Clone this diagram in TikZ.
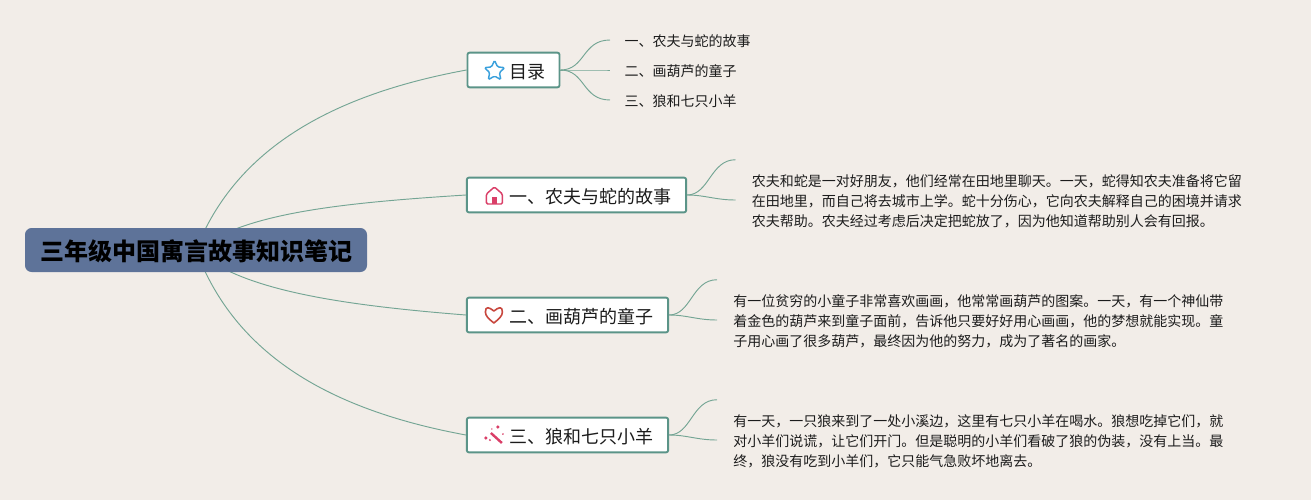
\documentclass[tikz,border=0pt]{standalone}
\usepackage{fontspec}
\setmainfont{Noto Sans CJK SC}
\usepackage{tikz}
\usetikzlibrary{calc,shapes.geometric,backgrounds}
\definecolor{paper}{HTML}{F2EDE8}
\definecolor{rootfill}{HTML}{5E7399}
\definecolor{teal}{HTML}{5B9488}
\definecolor{wire}{HTML}{74A594}
\definecolor{inkdark}{HTML}{1C1C1C}
\definecolor{iconblue}{HTML}{3AA0DC}
\definecolor{iconpink}{HTML}{DA3F68}
\definecolor{iconred}{HTML}{C8473E}
\newcommand{\tallline}{\rule{0pt}{1em}}
\begin{document}
\begin{tikzpicture}[
  x=0.75pt, y=-0.75pt,
  every node/.style={text=inkdark},
  rootbox/.style={fill=rootfill, text=black, rounded corners=5pt, minimum width=256.5pt,
                  minimum height=33pt, inner sep=0pt, font=\fontsize{18}{20}\selectfont\bfseries},
  topic/.style={draw=teal, line width=1.4pt, fill=white, rounded corners=1.5pt,
                minimum height=26pt, inner sep=0pt, font=\fontsize{13.5}{16}\selectfont},
  leaf/.style={anchor=west, inner xsep=10.8pt, inner ysep=0pt, font=\fontsize{10.5}{13}\selectfont},
  para/.style={anchor=west, align=left, inner xsep=12pt, inner ysep=0pt, minimum height=60pt,
               font=\fontsize{10.5}{15}\selectfont},
  wire/.style={draw=wire, line width=0.7pt},
  icon/.style={line width=1.1pt, line join=round}
]
\begin{pgfonlayer}{background}
\fill[paper] (0,0) rectangle (1311,500);
\end{pgfonlayer}
%% root
\node[rootbox] (root) at (196,250) {\tallline\hspace{1.5pt}三年级中国寓言故事知识笔记};
%% topics
\node[topic, minimum width=69pt] (toc) at (513.5,70) {\tallline\hspace{21.5pt}目录};
\node[topic, minimum width=164.5pt] (farmer) at (576.5,195) {\tallline\hspace{21.5pt}一、农夫与蛇的故事};
\node[topic, minimum width=151pt] (gourd) at (567.5,315) {\tallline\hspace{21.5pt}二、画葫芦的童子};
\node[topic, minimum width=151pt] (wolf) at (567.5,435) {\tallline\hspace{21.5pt}三、狼和七只小羊};
%% contents
\node[leaf] (toca) at (610,40) {\tallline 一、农夫与蛇的故事};
\node[leaf] (tocb) at (610,70) {\tallline 二、画葫芦的童子};
\node[leaf] (tocc) at (610,100) {\tallline 三、狼和七只小羊};
%% stories
\node[para] (farmertext) at (735.5,200) {\tallline 农夫和蛇是一对好朋友，他们经常在田地里聊天。一天，蛇得知农夫准备将它留\\
  在田地里，而自己将去城市上学。蛇十分伤心，它向农夫解释自己的困境并请求\\
  农夫帮助。农夫经过考虑后决定把蛇放了，因为他知道帮助别人会有回报。};
\node[para] (gourdtext) at (717,320) {\tallline 有一位贫穷的小童子非常喜欢画画，他常常画葫芦的图案。一天，有一个神仙带\\
  着金色的葫芦来到童子面前，告诉他只要好好用心画画，他的梦想就能实现。童\\
  子用心画了很多葫芦，最终因为他的努力，成为了著名的画家。};
\node[para] (wolftext) at (717,440) {\tallline 有一天，一只狼来到了一处小溪边，这里有七只小羊在喝水。狼想吃掉它们，就\\
  对小羊们说谎，让它们开门。但是聪明的小羊们看破了狼的伪装，没有上当。最\\
  终，狼没有吃到小羊们，它只能气急败坏地离去。};
%% branches
\begin{pgfonlayer}{background}
\draw[wire] (root.center) .. controls (235,150) and (330,95) .. (toc.west);
\draw[wire] (root.center) .. controls (245,213) and (340,203) .. (farmer.west);
\draw[wire] (root.center) .. controls (240,290) and (340,305) .. (gourd.west);
\draw[wire] (root.center) .. controls (235,355) and (330,410) .. (wolf.west);
\end{pgfonlayer}
\foreach \a/\b in {toc/toca,toc/tocb,toc/tocc}
  \draw[wire] (\a.east) .. controls +(25,0) and ($(\b.west)+(-28,0)$) .. (\b.west);
\foreach \a/\b in {farmer/farmertext,gourd/gourdtext,wolf/wolftext} {
  \draw[wire] (\a.east) .. controls +(22,0) and ($(\b.north west)+(-25,0)$) .. (\b.north west);
  \draw[wire] (\a.east) .. controls +(18,0) and ($(\b.west)+(-20,0)$) .. (\b.west);
}
%% icons
\node[star, star points=5, star point ratio=2.1, draw=iconblue, line width=1.1pt, rounded corners=1pt,
      minimum size=16pt, inner sep=0pt] (staricon) at ($(toc.west)+(28,1)$) {};
\coordinate (homeicon) at ($(farmer.west)+(28.5,0)$);
\draw[icon, draw=iconpink, rounded corners=1pt] ($(homeicon)+(-8,9)$) -- ++(0,-10) -- ++(8,-7) -- ++(8,7) -- ++(0,10) -- cycle;
\fill[iconpink] ($(homeicon)+(-2.5,9)$) rectangle ($(homeicon)+(2.5,2)$);
\coordinate (hearticon) at ($(gourd.west)+(28,0)$);
\draw[icon, draw=iconred, line width=1.2pt] ($(hearticon)+(0,8)$) .. controls +(-5,-4) and +(0,4) .. ($(hearticon)+(-8.5,-3)$)
  .. controls +(0,-6) and +(-5,-4) .. ($(hearticon)+(0,-4)$)
  .. controls +(5,-4) and +(0,-6) .. ($(hearticon)+(8.5,-3)$)
  .. controls +(0,4) and +(5,-4) .. cycle;
\coordinate (wandicon) at ($(wolf.west)+(28,0)$);
\draw[draw=iconpink, line width=1.8pt] ($(wandicon)+(-3,-2)$) -- ($(wandicon)+(8,8)$);
\foreach \dx/\dy/\r in {4/-8/1.8,-8/3/1.8,-4/5/1.1,9/-1/0.9,-2/-6/0.8}
  \fill[iconpink] ($(wandicon)+(\dx,\dy)$) circle (\r);
\end{tikzpicture}
\end{document}
